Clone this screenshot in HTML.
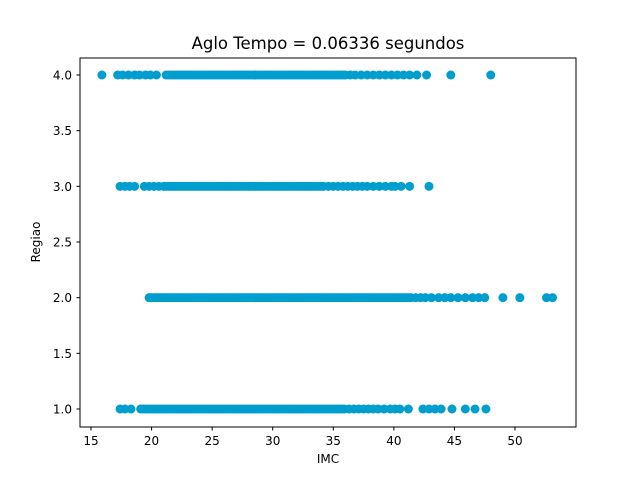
<!DOCTYPE html>
<html><head><meta charset="utf-8"><style>
body{margin:0;background:#fff}
svg text{font-family:"DejaVu Sans","Liberation Sans",sans-serif;fill:#000}
</style></head><body>
<svg id="chart" width="640" height="480" xmlns="http://www.w3.org/2000/svg">
<rect width="640" height="480" fill="#fff"/>
<text x="328" y="49" font-size="16.5" text-anchor="middle">Aglo Tempo = 0.06336 segundos</text>
<g id="pts"></g>
<rect x="80" y="58" width="496" height="369" fill="none" stroke="#000" stroke-width="1"/>
<g id="xt"></g>
<g id="yt"></g>
<text x="328" y="463" font-size="12" text-anchor="middle">IMC</text>
<text x="0" y="0" font-size="12" text-anchor="middle" transform="translate(40,242) rotate(-90)">Regiao</text>
</svg>
<script>
const xTicks=[15,20,25,30,35,40,45,50];
const yTicks=[1.0,1.5,2.0,2.5,3.0,3.5,4.0];
const imc4=[15.9,17.2,17.6,18.1,18.6,19.0,19.5,19.9,20.4,21.2,21.4,21.6,21.8,22.0,22.2,22.4,22.6,22.8,23.0,23.2,23.4,23.6,23.8,24.0,24.2,24.4,24.6,24.8,25.0,25.2,25.4,25.6,25.8,26.0,26.2,26.4,26.6,26.8,27.0,27.2,27.4,27.6,27.8,28.0,28.2,28.4,28.6,28.8,29.0,29.2,29.4,29.6,29.8,30.0,30.2,30.4,30.6,30.8,31.0,31.2,31.4,31.6,31.8,32.0,32.2,32.4,32.6,32.8,33.0,33.2,33.4,33.6,33.8,34.0,34.2,34.4,34.6,34.8,35.0,35.2,35.4,35.6,35.8,36.0,36.4,36.8,37.3,37.8,38.3,38.8,39.3,39.8,40.3,40.8,41.3,41.9,42.7,44.7,48.0];
const imc3=[17.4,17.8,18.2,18.6,19.4,19.8,20.2,20.6,21.0,21.2,21.4,21.6,21.8,22.0,22.2,22.4,22.6,22.8,23.0,23.2,23.4,23.6,23.8,24.0,24.2,24.4,24.6,24.8,25.0,25.2,25.4,25.6,25.8,26.0,26.2,26.4,26.6,26.8,27.0,27.2,27.4,27.6,27.8,28.0,28.2,28.4,28.6,28.8,29.0,29.2,29.4,29.6,29.8,30.0,30.2,30.4,30.6,30.8,31.0,31.2,31.4,31.6,31.8,32.0,32.2,32.4,32.6,32.8,33.0,33.2,33.4,33.6,33.8,34.0,34.2,34.6,35.0,35.4,35.8,36.2,36.6,37.0,37.4,37.8,38.3,38.8,39.3,39.8,40.1,40.6,41.3,42.9];
const imc2=[19.8,20.0,20.2,20.4,20.6,20.8,21.0,21.2,21.4,21.6,21.8,22.0,22.2,22.4,22.6,22.8,23.0,23.2,23.4,23.6,23.8,24.0,24.2,24.4,24.6,24.8,25.0,25.2,25.4,25.6,25.8,26.0,26.2,26.4,26.6,26.8,27.0,27.2,27.4,27.6,27.8,28.0,28.2,28.4,28.6,28.8,29.0,29.2,29.4,29.6,29.8,30.0,30.2,30.4,30.6,30.8,31.0,31.2,31.4,31.6,31.8,32.0,32.2,32.4,32.6,32.8,33.0,33.2,33.4,33.6,33.8,34.0,34.2,34.4,34.6,34.8,35.0,35.2,35.4,35.6,35.8,36.0,36.2,36.4,36.6,36.8,37.0,37.2,37.4,37.6,37.8,38.0,38.2,38.4,38.6,38.8,39.0,39.2,39.4,39.6,39.8,40.0,40.2,40.4,40.6,40.8,41.0,41.2,41.4,41.8,42.2,42.6,43.1,43.7,44.2,44.7,45.3,45.9,46.5,47.0,47.5,49.0,50.4,52.6,53.1];
const imc1=[17.4,17.8,18.3,19.1,19.3,19.5,19.7,19.9,20.1,20.3,20.5,20.7,20.9,21.1,21.3,21.5,21.7,21.9,22.1,22.3,22.5,22.7,22.9,23.1,23.3,23.5,23.7,23.9,24.1,24.3,24.5,24.7,24.9,25.1,25.3,25.5,25.7,25.9,26.1,26.3,26.5,26.7,26.9,27.1,27.3,27.5,27.7,27.9,28.1,28.3,28.5,28.7,28.9,29.1,29.3,29.5,29.7,29.9,30.1,30.3,30.5,30.7,30.9,31.1,31.3,31.5,31.7,31.9,32.1,32.3,32.5,32.7,32.9,33.1,33.3,33.5,33.7,33.9,34.1,34.3,34.5,34.7,34.9,35.1,35.3,35.5,35.7,35.9,36.3,36.7,37.1,37.5,37.9,38.3,38.7,39.2,39.7,40.1,40.5,41.2,42.4,42.9,43.4,43.9,44.8,45.9,46.7,47.6];
const series=[[4,imc4],[3,imc3],[2,imc2],[1,imc1]];
const X=v=>91+(v-15)*(515-91)/35;
const Y=v=>409-(v-1)*(409-75)/3;
const NS="http://www.w3.org/2000/svg";
const pts=document.getElementById('pts');
series.forEach(([r,arr])=>arr.forEach(v=>{
  const c=document.createElementNS(NS,'circle');
  
  
  c.setAttribute('cx',X(v));c.setAttribute('cy',Y(r));c.setAttribute('r',4.5);c.setAttribute('fill','#009dcf');
  pts.appendChild(c);
}));
const xt=document.getElementById('xt');
xTicks.forEach(t=>{
  const l=document.createElementNS(NS,'line');
  
  
  l.setAttribute('x1',X(t));l.setAttribute('x2',X(t));l.setAttribute('y1',427);l.setAttribute('y2',430.5);l.setAttribute('stroke','#000');
  xt.appendChild(l);
  const s=document.createElementNS(NS,'text');
  
  
  s.setAttribute('x',X(t));s.setAttribute('y',445);s.setAttribute('font-size','12');s.setAttribute('text-anchor','middle');
  s.textContent=t;xt.appendChild(s);
});
const yt=document.getElementById('yt');
yTicks.forEach(t=>{
  const l=document.createElementNS(NS,'line');
  
  
  l.setAttribute('x1',76.5);l.setAttribute('x2',80);l.setAttribute('y1',Y(t));l.setAttribute('y2',Y(t));l.setAttribute('stroke','#000');
  yt.appendChild(l);
  const s=document.createElementNS(NS,'text');
  
  
  s.setAttribute('x',72);s.setAttribute('y',Y(t)+4.5);s.setAttribute('font-size','12');s.setAttribute('text-anchor','end');
  s.textContent=t.toFixed(1);yt.appendChild(s);
});
</script>
</body></html>
